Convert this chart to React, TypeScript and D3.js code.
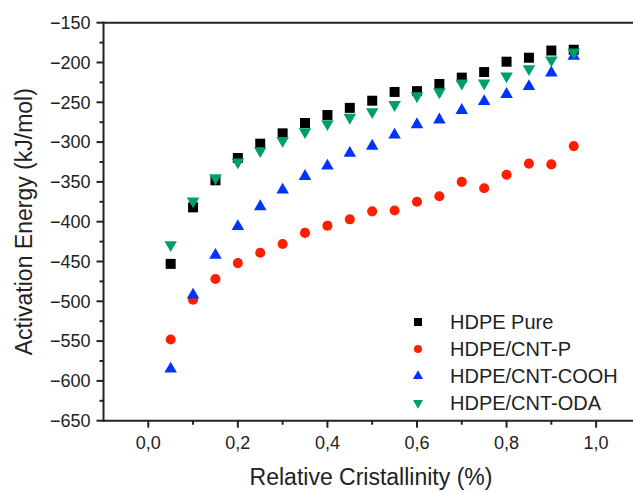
import React from 'react'
import * as d3 from 'd3'

// Relative cristallinity values (shared by every series)
const crystallinity = [0.05, 0.1, 0.15, 0.2, 0.25, 0.3, 0.35, 0.4, 0.45, 0.5, 0.55, 0.6, 0.65, 0.7, 0.75, 0.8, 0.85, 0.9, 0.95]

// Activation energy (kJ/mol)
const hdpePure = [-453, -382, -348, -320, -302, -289, -276, -266, -257, -248, -237, -236, -227, -219, -212, -199, -194, -185, -184]
const hdpeCntP = [-548, -498, -472, -452, -439, -428, -414, -405, -397, -387, -386, -375, -368, -350, -358, -341, -327, -328, -305]
const hdpeCntCooh = [-585, -492, -442, -406, -381, -360, -343, -330, -314, -305, -291, -278, -272, -260, -249, -240, -230, -213, -192]
const hdpeCntOda = [-429, -374, -345, -325, -311, -298, -287, -277, -269, -262, -253, -242, -237, -226, -226, -217, -208, -197, -187]

const seriesNames = ['HDPE Pure', 'HDPE/CNT-P', 'HDPE/CNT-COOH', 'HDPE/CNT-ODA']
const seriesColors = ['#000000', '#ff1f00', '#0033ff', '#009e6e']

const xMajorTicks = [0, 0.2, 0.4, 0.6, 0.8, 1.0]
const xMinorTicks = [0.1, 0.3, 0.5, 0.7, 0.9]
const yMajorTicks = [-150, -200, -250, -300, -350, -400, -450, -500, -550, -600, -650]
const yMinorTicks = [-175, -225, -275, -325, -375, -425, -475, -525, -575, -625]

const W = 633
const H = 493
const FONT = '"Liberation Sans", Arial, sans-serif'

const x = d3.scaleLinear().domain([-0.1, 1.1]).range([103.5, 640.9])
const y = d3.scaleLinear().domain([-650, -150]).range([420.7, 22.7])

// marker paths: square, circle, triangle up, triangle down
const markerPaths = [
  d3.symbol().type(d3.symbolSquare).size(100)(),
  d3.symbol().type(d3.symbolCircle).size(80)(),
  d3.symbol().type(d3.symbolTriangle).size(68)(),
  d3.symbol().type(d3.symbolTriangle).size(68)(),
]
const markerRotate = [0, 0, 0, 180]

const allSeries = [hdpePure, hdpeCntP, hdpeCntCooh, hdpeCntOda]

const fmt = (v: number) => v.toFixed(1).replace('.', ',')
const fmtY = (v: number) => String(v).replace('-', '\u2212')

export default function App() {
  const left = x.range()[0]
  const bottom = y.range()[0]
  const top = y.range()[1]

  return (
    <div style={{ position: 'absolute', left: 0, top: 0 }}>
      <svg width={W} height={H} style={{ display: 'block', background: '#fff' }} fontFamily={FONT}>
        {/* data markers */}
        {allSeries.map((vals, si) => (
          <g key={si} fill={seriesColors[si]}>
            {vals.map((v, i) => (
              <path
                key={i}
                d={markerPaths[si]!}
                transform={`translate(${x(crystallinity[i])},${y(v)}) rotate(${markerRotate[si]})`}
              />
            ))}
          </g>
        ))}

        {/* frame: left, bottom and top */}
        <g stroke="#222" strokeWidth={2} fill="none">
          <line x1={left} x2={W} y1={top} y2={top} />
          <line x1={left} x2={W} y1={bottom} y2={bottom} />
          <line x1={left} x2={left} y1={top - 1} y2={bottom + 1} />
        </g>

        {/* x ticks */}
        <g stroke="#222" strokeWidth={2}>
          {xMajorTicks.map(t => (
            <line key={t} x1={x(t)} x2={x(t)} y1={bottom} y2={bottom + 7} />
          ))}
          {xMinorTicks.map(t => (
            <line key={t} x1={x(t)} x2={x(t)} y1={bottom} y2={bottom + 4} />
          ))}
          {yMajorTicks.map(t => (
            <line key={t} x1={left} x2={left - 7} y1={y(t)} y2={y(t)} />
          ))}
          {yMinorTicks.map(t => (
            <line key={t} x1={left} x2={left - 4} y1={y(t)} y2={y(t)} />
          ))}
        </g>

        <g fontSize={18} fill="#222">
          {xMajorTicks.map(t => (
            <text key={t} x={x(t)} y={bottom + 28} textAnchor="middle">{fmt(t)}</text>
          ))}
          {yMajorTicks.map(t => (
            <text key={t} x={left - 13} y={y(t)} dy="0.35em" textAnchor="end">{fmtY(t)}</text>
          ))}
        </g>

        {/* axis titles */}
        <text x={371} y={485} textAnchor="middle" fontSize={23} fill="#222">
          Relative Cristallinity (%)
        </text>
        <text
          transform={`translate(32,${(top + bottom) / 2}) rotate(-90)`}
          textAnchor="middle"
          fontSize={23}
          fill="#222"
        >
          Activation Energy (kJ/mol)
        </text>

        {/* legend */}
        <g>
          {seriesNames.map((name, si) => {
            const ly = 329 + si * 27
            return (
              <g key={name}>
                <path
                  d={markerPaths[si]!}
                  fill={seriesColors[si]}
                  transform={`translate(418,${ly - 7}) rotate(${markerRotate[si]}) scale(0.8)`}
                />
                <text x={450} y={ly} fontSize={20} fill="#222">{name}</text>
              </g>
            )
          })}
        </g>
      </svg>
    </div>
  )
}
